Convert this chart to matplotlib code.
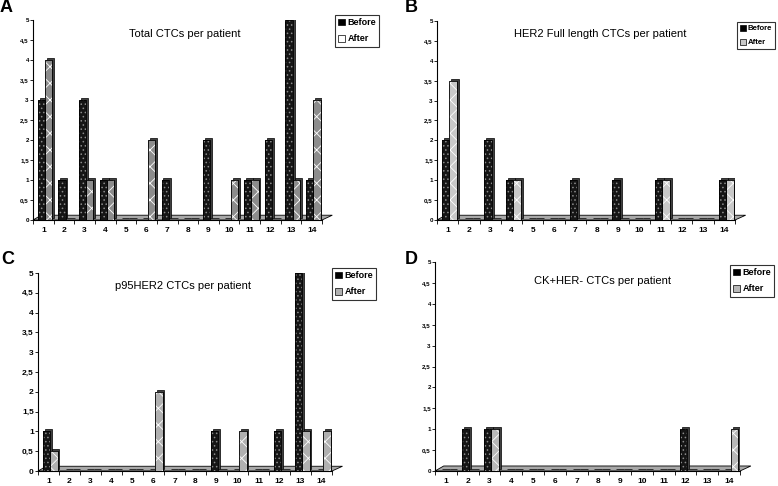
import numpy as np
import matplotlib.pyplot as plt
from matplotlib.patches import Patch, Polygon
from matplotlib.ticker import FuncFormatter, MultipleLocator

patients = list(range(1, 15))

total_before = [3, 1, 3, 1, 0, 0, 1, 0, 2, 0, 1, 2, 5, 1]
total_after = [4, 0, 1, 1, 0, 2, 0, 0, 0, 1, 1, 0, 1, 3]

her2_before = [2, 0, 2, 1, 0, 0, 1, 0, 1, 0, 1, 0, 0, 1]
her2_after = [3.5, 0, 0, 1, 0, 0, 0, 0, 0, 0, 1, 0, 0, 1]

p95_before = [1, 0, 0, 0, 0, 0, 0, 0, 1, 0, 0, 1, 5, 0]
p95_after = [0.5, 0, 0, 0, 0, 2, 0, 0, 0, 1, 0, 0, 1, 1]

ck_before = [0, 1, 1, 0, 0, 0, 0, 0, 0, 0, 0, 1, 0, 0]
ck_after = [0, 0, 1, 0, 0, 0, 0, 0, 0, 0, 0, 0, 0, 1]

plt.rcParams['font.family'] = ['Liberation Sans', 'DejaVu Sans']
plt.rcParams['hatch.linewidth'] = 0.6

fig = plt.figure(figsize=(7.78, 4.86), dpi=100)
W, H = 778, 486

# letter, title, data, axes px box, title px, letter px, legend px, legend size, ytick size, after colour
panels = [
    ('A', 'Total CTCs per patient', total_before, total_after,
     (33, 322, 20, 220), (185, 34), (0, 7), (335, 15), 6.5, 4.5, '#8c8c8c'),
    ('B', 'HER2 Full length CTCs per patient', her2_before, her2_after,
     (437, 735, 21, 220), (600, 34), (405, 8), (737, 22), 5.6, 4.5, '#c8c8c8'),
    ('C', 'p95HER2 CTCs per patient', p95_before, p95_after,
     (38, 332, 273, 471), (183, 286), (1, 259), (332, 268), 6.5, 6, '#b0b0b0'),
    ('D', 'CK+HER- CTCs per patient', ck_before, ck_after,
     (435, 740, 262, 471), (602, 281), (405, 260), (730, 265), 6.5, 4.5, '#b8b8b8'),
]

for (letter, title, before, after, box, tpos, letpos, lpos,
     lsize, ysize, acol) in panels:
    x0, x1, ytop, yzero = box
    ax = fig.add_axes([x0 / W, 1 - yzero / H, (x1 - x0) / W, (yzero - ytop) / H])
    x = np.arange(len(patients))
    w = 0.35
    dx, dy = 0.09, 0.05

    # floor of the 3D plot
    floor = Polygon([(-0.5, 0), (13.5, 0), (14.0, 0.12), (-0.1, 0.12)],
                    closed=True, facecolor='#a8a8a8', edgecolor='black',
                    linewidth=0.6, clip_on=False, zorder=1)
    ax.add_patch(floor)

    for vals, off, face, hcol, hatch in [(before, -0.27, '#151515', '#8a8a8a', '....'),
                                         (after, 0.08, acol, 'white', 'xx')]:
        vals = np.array(vals, dtype=float)
        left = x + off
        # side / depth
        ax.bar(left + dx, vals, width=w, bottom=dy, align='edge',
               color='#404040', edgecolor='black', linewidth=0.5, zorder=2)
        ax.bar(left, vals, width=w, align='edge', color=face,
               edgecolor=hcol, hatch=hatch, linewidth=0, zorder=3)
        ax.bar(left, vals, width=w, align='edge', fill=False,
               edgecolor='black', linewidth=0.6, zorder=4)

    ax.set_xlim(-0.5, 13.5)
    ax.set_ylim(0, 5)
    ax.spines['top'].set_visible(False)
    ax.spines['right'].set_visible(False)
    ax.spines['left'].set_linewidth(0.8)
    ax.spines['bottom'].set_linewidth(0.8)
    ax.yaxis.set_major_locator(MultipleLocator(0.5))
    ax.yaxis.set_major_formatter(FuncFormatter(lambda v, p: ('%g' % v).replace('.', ',')))
    ax.tick_params(axis='y', direction='out', length=2, width=0.6, labelsize=ysize, pad=1)
    for lab in ax.get_yticklabels():
        lab.set_fontweight('bold')
    ax.set_xticks(x)
    ax.set_xticklabels([str(p) for p in patients], fontsize=6, fontweight='bold')
    ax.tick_params(axis='x', length=0, pad=5)
    ax.set_xticks(np.arange(-0.5, 14, 1), minor=True)
    ax.tick_params(axis='x', which='minor', direction='out', length=3, width=0.6)
    ax.patch.set_alpha(0)

    fig.text(tpos[0] / W, 1 - tpos[1] / H, title, ha='center', va='center', fontsize=8)
    fig.text(letpos[0] / W, 1 - letpos[1] / H, letter, ha='left', va='center',
             fontsize=13, fontweight='bold')

    handles = [Patch(facecolor='black', edgecolor='black', linewidth=0.5),
               Patch(facecolor=acol if letter != 'A' else 'white', edgecolor='black',
                     linewidth=0.5)]
    leg = fig.legend(handles, ['Before', 'After'], loc='upper left',
                     bbox_to_anchor=(lpos[0] / W, 1 - lpos[1] / H),
                     prop={'size': lsize, 'weight': 'bold'}, frameon=True, fancybox=False,
                     edgecolor='black', handlelength=0.8, handleheight=0.8,
                     handletextpad=0.25, borderpad=0.35, labelspacing=0.8,
                     borderaxespad=0)
    leg.get_frame().set_linewidth(0.8)

fig.savefig('out.png', dpi=100)
